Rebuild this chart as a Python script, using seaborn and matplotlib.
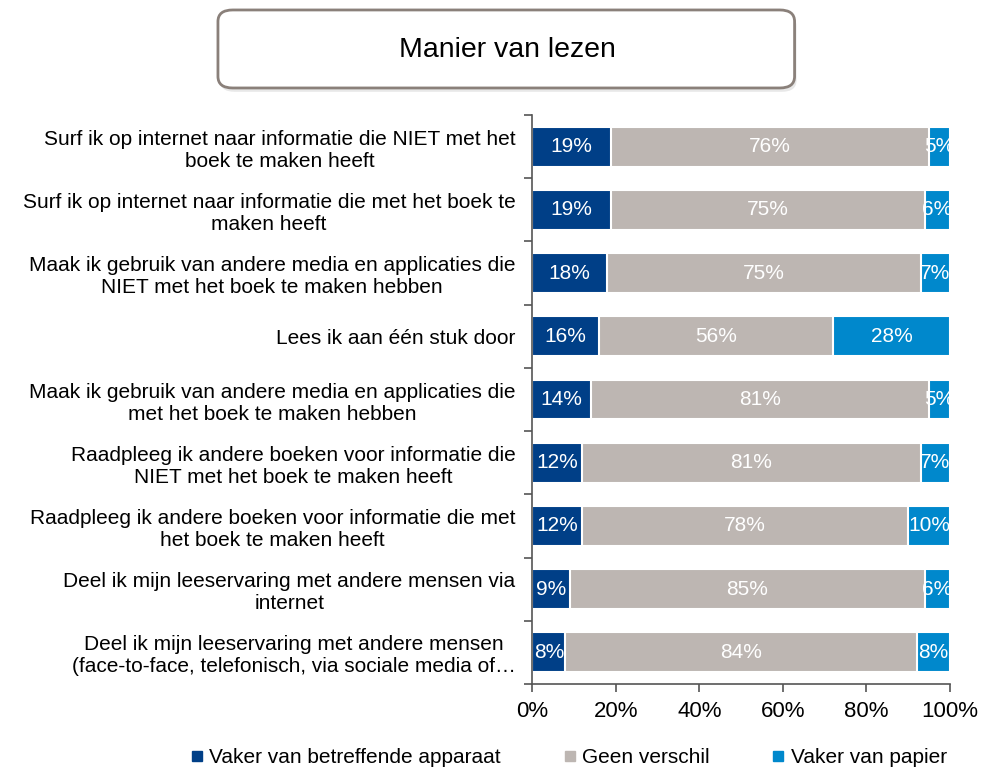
import numpy as np
import pandas as pd
import seaborn as sns
import matplotlib.pyplot as plt
from matplotlib.patches import FancyBboxPatch
from matplotlib.lines import Line2D

# Chart data
categories = [
    'Surf ik op internet naar informatie die NIET met het\nboek te maken heeft',
    'Surf ik op internet naar informatie die met het boek te\nmaken heeft',
    'Maak ik gebruik van andere media en applicaties die\nNIET met het boek te maken hebben',
    'Lees ik aan één stuk door',
    'Maak ik gebruik van andere media en applicaties die\nmet het boek te maken hebben',
    'Raadpleeg ik andere boeken voor informatie die\nNIET met het boek te maken heeft',
    'Raadpleeg ik andere boeken voor informatie die met\nhet boek te maken heeft',
    'Deel ik mijn leeservaring met andere mensen via\ninternet',
    'Deel ik mijn leeservaring met andere mensen\n(face-to-face, telefonisch, via sociale media of…',
]
vaker_apparaat = [19, 19, 18, 16, 14, 12, 12, 9, 8]
geen_verschil = [76, 75, 75, 56, 81, 81, 78, 85, 84]
vaker_papier = [5, 6, 7, 28, 5, 7, 10, 6, 8]

series_names = ['Vaker van betreffende apparaat', 'Geen verschil', 'Vaker van papier']
colors = ['#003f87', '#bdb6b2', '#0088cc']

df = pd.DataFrame({
    'categorie': categories,
    'apparaat': vaker_apparaat,
    'geen': geen_verschil,
    'papier': vaker_papier,
})
df['cum1'] = df['apparaat']
df['cum2'] = df['apparaat'] + df['geen']
df['cum3'] = df['cum2'] + df['papier']

plt.rcParams['font.family'] = ['Liberation Sans', 'DejaVu Sans']

fig = plt.figure(figsize=(9.84, 7.67), dpi=100)
ax = fig.add_axes([0.5407, 0.1082, 0.4248, 0.7418])

# stacked bars drawn back to front (cumulative totals)
for col, color in zip(['cum3', 'cum2', 'cum1'], colors[::-1]):
    sns.barplot(data=df, x=col, y='categorie', color=color, orient='h',
                width=0.63, saturation=1, edgecolor='white', linewidth=1.5, ax=ax)

# value labels in the middle of each segment
starts = [np.zeros(len(df)), df['cum1'].values, df['cum2'].values]
widths = [df['apparaat'].values, df['geen'].values, df['papier'].values]
for left, w in zip(starts, widths):
    for i, (l, v) in enumerate(zip(left, w)):
        ax.text(l + v / 2, i, f'{v}%', ha='center', va='center', color='white',
                fontsize=15, clip_on=True)

ax.set_xlim(0, 100)
ax.set_ylim(len(df) - 0.5, -0.5)
ax.set_xticks(np.arange(0, 101, 20))
ax.set_xticklabels([f'{t}%' for t in range(0, 101, 20)], fontsize=16)
ax.set_xlabel('')
ax.set_ylabel('')

# category labels, ticks at the boundaries between categories
ax.set_yticks(np.arange(len(df)))
ax.set_yticklabels(categories, fontsize=15, multialignment='center')
ax.set_yticks(np.arange(-0.5, len(df), 1), minor=True)
ax.tick_params(axis='y', which='major', length=0, pad=12)
ax.tick_params(axis='y', which='minor', length=6, width=1.2, color='#555555')
ax.tick_params(axis='x', length=6, width=1.2, color='#555555', pad=6)

for side in ['top', 'right']:
    ax.spines[side].set_visible(False)
for side in ['left', 'bottom']:
    ax.spines[side].set_color('#555555')
    ax.spines[side].set_linewidth(1.2)

# title box
shadow = FancyBboxPatch((0.2235, 0.8803), 0.586, 0.1007,
                        boxstyle='round,pad=0,rounding_size=0.015',
                        transform=fig.transFigure, facecolor='#d9d9d9',
                        edgecolor='none', alpha=0.6, zorder=1)
fig.patches.append(shadow)
box = FancyBboxPatch((0.2215, 0.8853), 0.586, 0.1017,
                     boxstyle='round,pad=0,rounding_size=0.015',
                     transform=fig.transFigure, facecolor='white',
                     edgecolor='#8a807a', linewidth=2, zorder=2)
fig.patches.append(box)
fig.text(0.516, 0.935, 'Manier van lezen', ha='center', va='center', fontsize=20.5)

# legend
handles = [Line2D([0], [0], marker='s', linestyle='none', markersize=7,
                  markerfacecolor=c, markeredgecolor=c) for c in colors]
fig.legend(handles, series_names, loc='center', bbox_to_anchor=(0.578, 0.012),
           ncol=3, frameon=False, fontsize=15, handlelength=0.6,
           handletextpad=0.3, columnspacing=3.0)

fig.savefig('out.png', dpi=100)
